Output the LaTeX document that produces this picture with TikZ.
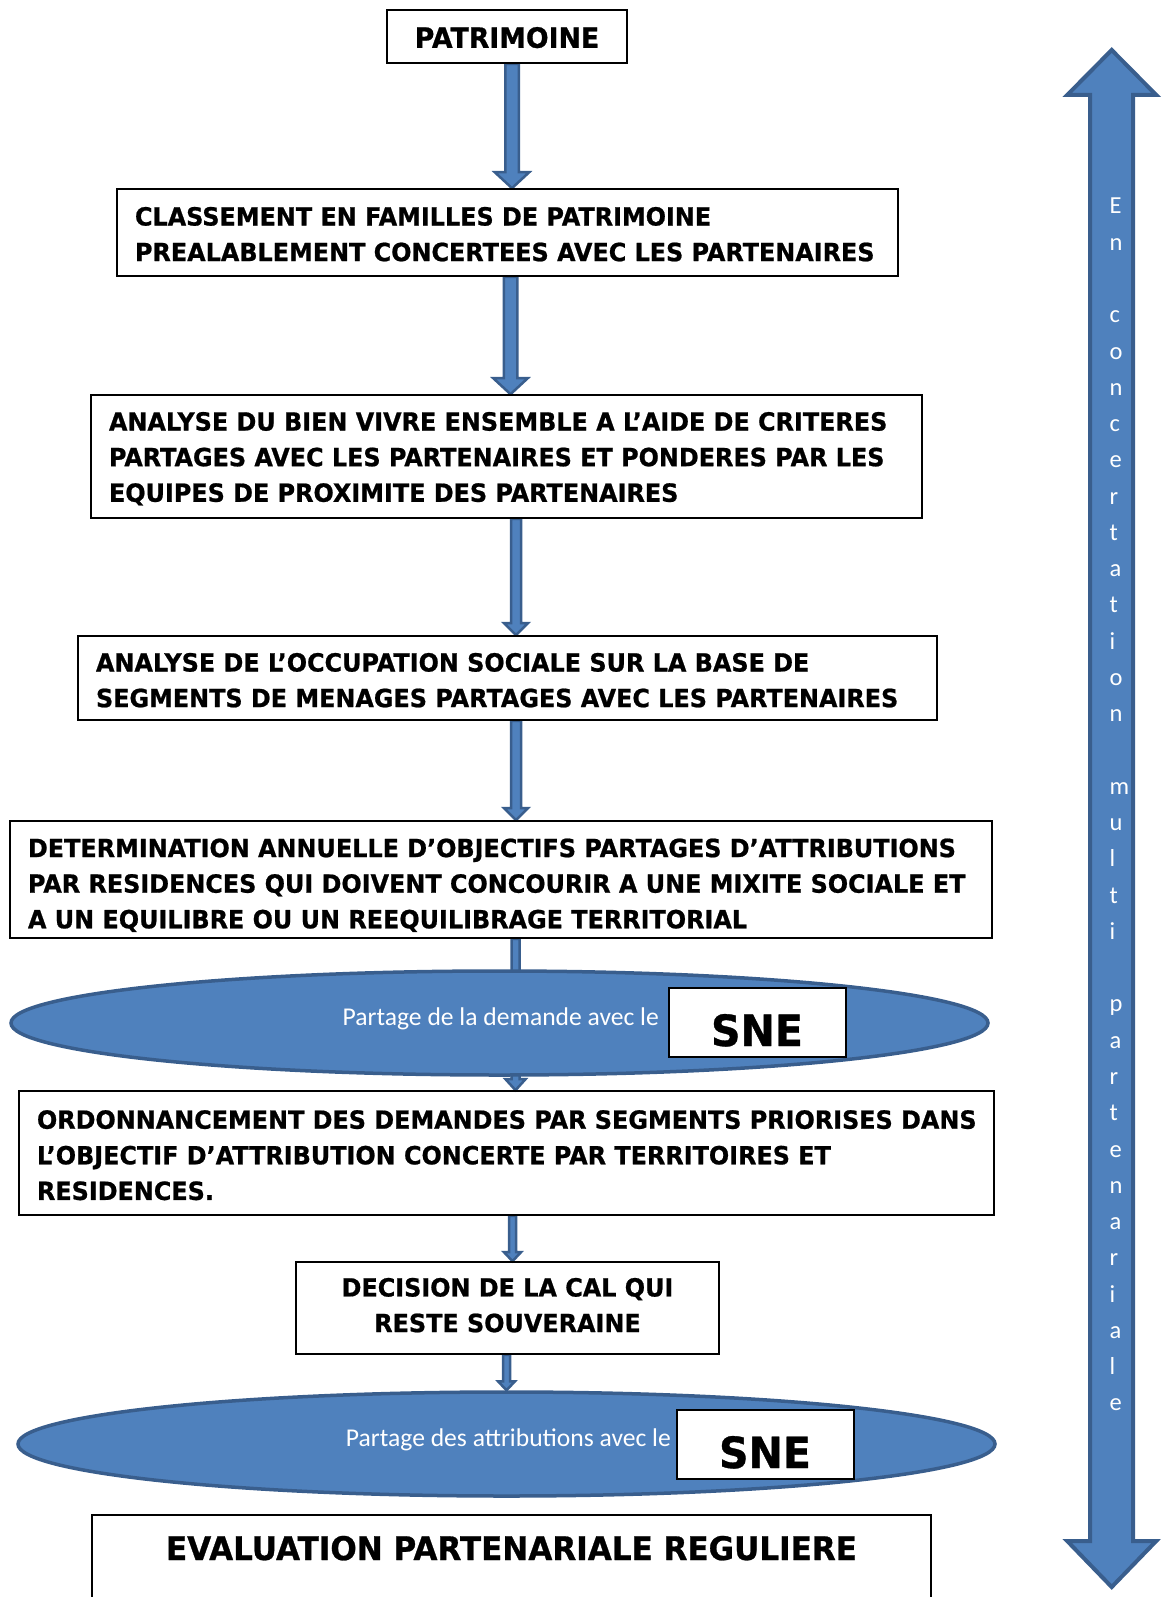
\documentclass[tikz,border=0pt]{standalone}
\usepackage{fontspec}
\setmainfont{DejaVu Sans}
\newfontfamily\calib{Carlito}
\newfontfamily\boxfont{DejaVu Sans Bold}[FakeStretch=0.955, FakeBold=0.8]
\usetikzlibrary{shapes.geometric,calc}
\definecolor{ofblue}{HTML}{4F81BD}
\definecolor{ofdark}{HTML}{395E8D}
\pgfdeclarelayer{bg}
\pgfsetlayers{bg,main}
\newcommand\mkblockarrow[6]{%
  \coordinate (ax) at (#1,0);
  \path[blockarr] let \p1=(ax |- #2), \p2=(ax |- #3) in
    (\x1-#4pt,\y1) -- (\x1-#4pt,\y2+#6pt) -- (\x1-#5pt,\y2+#6pt) -- (\x1,\y2)
    -- (\x1+#5pt,\y2+#6pt) -- (\x1+#4pt,\y2+#6pt) -- (\x1+#4pt,\y1) -- cycle;}
\newcommand\dn[1]{\rule{0pt}{#1pt}}
\begin{document}
\begin{tikzpicture}[x=1pt,y=-1pt,
  box/.style={draw=black, line width=1.6pt, rectangle, inner xsep=18pt, inner ysep=0pt,
    font=\boxfont\fontsize{25}{35.6}\selectfont, align=left},
  cbox/.style={box, align=center},
  blockarr/.style={fill=ofblue, draw=ofdark, line width=2.5pt, line join=miter},
  oval/.style={ellipse, draw=ofdark, fill=ofblue, line width=3.5pt, inner sep=0pt,
    minimum width=977, minimum height=104},
  ovaltxt/.style={font=\calib\fontsize{25.6}{30}\selectfont, text=white, inner sep=0pt, anchor=base east},
  snebox/.style={draw=black, fill=white, line width=1.2pt, minimum width=177, minimum height=69, inner sep=0pt},
  snetxt/.style={font=\boxfont\fontsize{43}{48}\selectfont, inner sep=0pt, anchor=base},
  vletter/.style={font=\calib\fontsize{24.5}{30}\selectfont, text=white, inner sep=0pt, anchor=base west}
]
\useasboundingbox (0,0) rectangle (1166,1597);
\clip (0,0) rectangle (1166,1597);

% boxes
\node[cbox, minimum width=240, minimum height=53, font=\boxfont\fontsize{28}{32}\selectfont] (b1) at (507,36.5) {\dn{23}PATRIMOINE};
\node[box, minimum width=781, minimum height=87, text width=745] (b2) at (507.5,232.5)
  {\mbox{\dn{22}CLASSEMENT EN FAMILLES DE PATRIMOINE}\\\mbox{PREALABLEMENT CONCERTEES AVEC LES PARTENAIRES}};
\node[box, minimum width=831, minimum height=123, text width=795] (b3) at (506.5,456.5)
  {\mbox{\dn{23}ANALYSE DU BIEN VIVRE ENSEMBLE A L’AIDE DE CRITERES}\\\mbox{PARTAGES AVEC LES PARTENAIRES ET PONDERES PAR LES}\\\mbox{EQUIPES DE PROXIMITE DES PARTENAIRES}};
\node[box, minimum width=859, minimum height=84, text width=823] (b4) at (507.5,678)
  {\mbox{\dn{23}ANALYSE DE L’OCCUPATION SOCIALE SUR LA BASE DE}\\\mbox{SEGMENTS DE MENAGES PARTAGES AVEC LES PARTENAIRES}};
\node[box, minimum width=982, minimum height=117, text width=946] (b5) at (501,879.5)
  {\mbox{\dn{30}DETERMINATION ANNUELLE D’OBJECTIFS PARTAGES D’ATTRIBUTIONS}\\\mbox{PAR RESIDENCES QUI DOIVENT CONCOURIR A UNE MIXITE SOCIALE ET}\\\mbox{A UN EQUILIBRE OU UN REEQUILIBRAGE TERRITORIAL}};
\node[oval] (e1) at (499.5,1023) {};
\node[ovaltxt] (p1) at (659,1025) {Partage de la demande avec le};
\node[snebox] (s1) at (757.5,1022.5) {};
\node[snetxt] (s1t) at (757,1046) {SNE};
\node[box, minimum width=975, minimum height=124, text width=939] (b6) at (506.5,1153)
  {\mbox{\dn{23}ORDONNANCEMENT DES DEMANDES PAR SEGMENTS PRIORISES DANS}\\\mbox{L’OBJECTIF D’ATTRIBUTION CONCERTE PAR TERRITOIRES ET}\\\mbox{RESIDENCES.}};
\node[cbox, minimum width=423, minimum height=92] (b7) at (507.5,1308)
  {DECISION DE LA CAL QUI\\RESTE SOUVERAINE\rule[-6pt]{0pt}{6pt}};
\node[oval] (e2) at (506.5,1444) {};
\node[ovaltxt] (p2) at (671,1446) {Partage des attributions avec le};
\node[snebox] (s2) at (765.5,1444.5) {};
\node[snetxt] (s2t) at (765,1468) {SNE};
\node[draw=black, line width=1.6pt, minimum width=839, minimum height=100, inner sep=0pt] (b8) at (511.5,1565) {};
\node[font=\boxfont\fontsize{32.5}{38}\selectfont, inner sep=0pt, anchor=base] (b8t) at (511.5,1560) {EVALUATION PARTENARIALE REGULIERE};

% arrows between steps
\begin{pgfonlayer}{bg}
\mkblockarrow{512}{b1.south}{b2.north}{6.75}{17.25}{16}
\mkblockarrow{510.5}{b2.south}{b3.north}{6.75}{17.25}{16}
\mkblockarrow{516}{b3.south}{b4.north}{5}{12}{12}
\mkblockarrow{516}{b4.south}{b5.north}{5}{12}{12}
\mkblockarrow{515.5}{b5.south}{b6.north}{4}{10}{11}
\mkblockarrow{512.5}{b6.south}{b7.north}{3.5}{8.5}{9}
\mkblockarrow{506.5}{b7.south}{e2.north}{3.5}{8.5}{9}
\end{pgfonlayer}

% right double arrow
\path[fill=ofblue, draw=ofdark, line width=4pt, line join=miter]
  (1111.7,50) -- (1156.2,95) -- (1133.2,95) -- (1133.2,1541) -- (1156.2,1541)
  -- (1111.7,1587) -- (1067.2,1541) -- (1090.2,1541) -- (1090.2,95) -- (1067.2,95) -- cycle;
\foreach \ch/\i in {E/1,n/2,c/4,o/5,n/6,c/7,e/8,r/9,t/10,a/11,t/12,i/13,o/14,n/15,
  m/17,u/18,l/19,t/20,i/21,p/23,a/24,r/25,t/26,e/27,n/28,a/29,r/30,i/31,a/32,l/33,e/34}
  \node[vletter] (v\i) at (1109.5,{214+(\i-1)*36.27}) {\ch};
\end{tikzpicture}
\end{document}
